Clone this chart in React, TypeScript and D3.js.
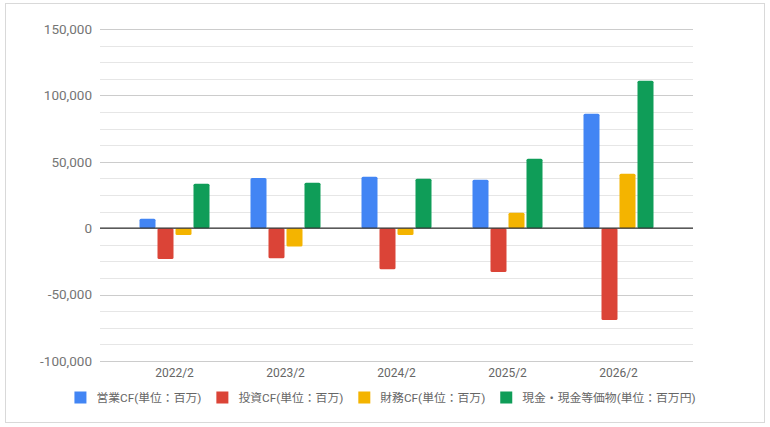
import React, { useEffect, useRef } from 'react'
import * as d3 from 'd3'

const periods = ['2022/2', '2023/2', '2024/2', '2025/2', '2026/2']
const seriesNames = [
  '営業CF(単位：百万)',
  '投資CF(単位：百万)',
  '財務CF(単位：百万)',
  '現金・現金等価物(単位：百万円)',
]
const operatingCF = [7200, 37800, 38800, 36500, 86200]
const investingCF = [-23200, -22700, -31000, -33000, -69100]
const financingCF = [-5100, -13700, -5100, 11700, 41000]
const cashEquivalents = [33500, 34300, 37300, 52300, 111100]
const yTicks = [-100000, -50000, 0, 50000, 100000, 150000]

const colors = ['#4285F4', '#DB4437', '#F4B400', '#0F9D58']
const font = 'Roboto, "Noto Sans CJK JP", sans-serif'

const CashFlowChart: React.FC = () => {
  const svgRef = useRef<SVGSVGElement | null>(null)

  useEffect(() => {
    if (!svgRef.current) return
    const svg = d3.select(svgRef.current)
    svg.selectAll('*').remove()

    const width = 770
    const height = 427
    const margin = { top: 29, right: 77, bottom: 66, left: 100 }
    const values = [operatingCF, investingCF, financingCF, cashEquivalents]

    // frame
    svg
      .append('rect')
      .attr('x', 5.5)
      .attr('y', 3.5)
      .attr('width', 759)
      .attr('height', 419)
      .attr('fill', '#fff')
      .attr('stroke', '#d9d9d9')

    const y = d3
      .scaleLinear()
      .domain([-100000, 150000])
      .range([height - margin.bottom, margin.top])

    const x0 = d3
      .scaleBand()
      .domain(periods)
      .range([margin.left + 19, width - margin.right - 19])
    const x1 = d3
      .scaleBand()
      .domain(seriesNames)
      .range([0, 70])
      .paddingInner(0.1111)
    const groupOffset = (x0.bandwidth() - 70) / 2

    // minor gridlines
    const minor = d3.range(-100000, 150001, 12500)
    svg
      .append('g')
      .selectAll('line')
      .data(minor)
      .enter()
      .append('line')
      .attr('x1', margin.left)
      .attr('x2', width - margin.right)
      .attr('y1', (d) => Math.round(y(d)) + 0.5)
      .attr('y2', (d) => Math.round(y(d)) + 0.5)
      .attr('stroke', (d) => (d % 50000 === 0 ? '#cccccc' : '#e6e6e6'))

    // y labels
    svg
      .append('g')
      .selectAll('text')
      .data(yTicks)
      .enter()
      .append('text')
      .attr('x', margin.left - 8)
      .attr('y', (d) => y(d))
      .attr('dy', '0.35em')
      .attr('text-anchor', 'end')
      .attr('font-family', font)
      .attr('font-size', 13.5)
      .attr('fill', '#757575')
      .text((d) => d3.format(',')(d).replace('−', '-'))

    // bars
    const groups = svg
      .append('g')
      .selectAll('g')
      .data(periods)
      .enter()
      .append('g')
      .attr('transform', (d) => `translate(${x0(d)! + groupOffset},0)`)

    groups
      .selectAll('rect')
      .data((_, i) => seriesNames.map((name, s) => ({ name, s, v: values[s][i] })))
      .enter()
      .append('rect')
      .attr('x', (d) => x1(d.name)!)
      .attr('y', (d) => y(Math.max(0, d.v)))
      .attr('width', x1.bandwidth())
      .attr('height', (d) => Math.abs(y(d.v) - y(0)))
      .attr('rx', 1.5)
      .attr('fill', (d) => colors[d.s])

    // zero line
    svg
      .append('line')
      .attr('x1', margin.left)
      .attr('x2', width - margin.right)
      .attr('y1', y(0))
      .attr('y2', y(0))
      .attr('stroke', '#333')
      .attr('stroke-width', 1.2)

    // x labels
    svg
      .append('g')
      .selectAll('text')
      .data(periods)
      .enter()
      .append('text')
      .attr('x', (d) => x0(d)! + x0.bandwidth() / 2)
      .attr('y', height - margin.bottom + 16)
      .attr('text-anchor', 'middle')
      .attr('font-family', font)
      .attr('font-size', 12)
      .attr('fill', '#666')
      .text((d) => d)

    // legend
    const legend = svg.append('g')
    const items = legend
      .selectAll('g')
      .data(seriesNames)
      .enter()
      .append('g')
    items
      .append('rect')
      .attr('width', 12)
      .attr('height', 12)
      .attr('y', -6)
      .attr('fill', (_, i) => colors[i])
    items
      .append('text')
      .attr('x', 22)
      .attr('dy', '0.35em')
      .attr('font-family', font)
      .attr('font-size', 11.8)
      .attr('fill', '#666')
      .text((d) => d)

    let offset = 0
    const positions: number[] = []
    items.each(function () {
      const t = d3.select(this).select('text').node() as SVGTextElement
      positions.push(offset)
      offset += 22 + t.getComputedTextLength() + 15
    })
    const total = offset - 15
    items.attr('transform', (_, i) => `translate(${positions[i]},0)`)
    legend.attr('transform', `translate(${(width - total) / 2},397.5)`)
  }, [])

  return (
    <svg
      ref={svgRef}
      width={770}
      height={427}
      style={{ position: 'absolute', left: 0, top: 0 }}
    ></svg>
  )
}

export default function App() {
  return <CashFlowChart />
}
